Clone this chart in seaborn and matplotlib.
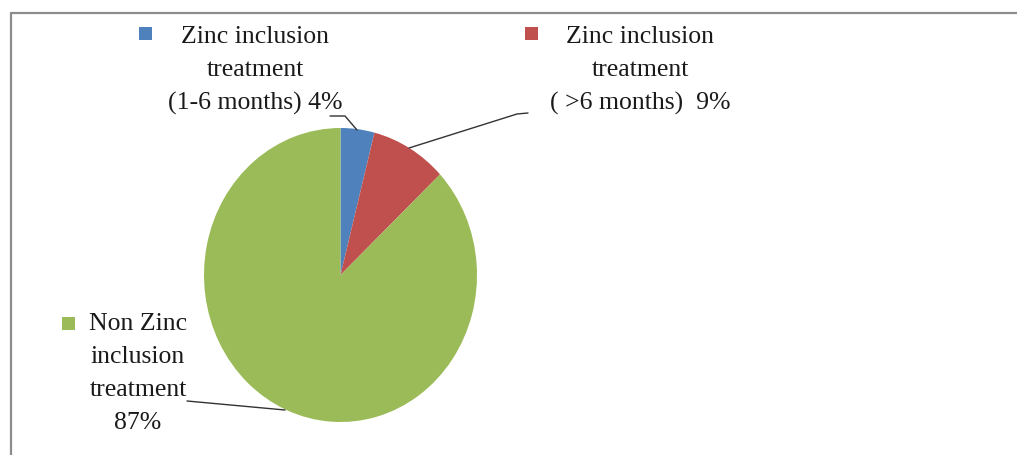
import matplotlib
matplotlib.use("Agg")
import matplotlib.pyplot as plt
import seaborn as sns
from matplotlib.lines import Line2D
from matplotlib.patches import Rectangle

# ---- data ----
categories = ["Zinc inclusion\ntreatment\n(1-6 months) 4%",
              "Zinc inclusion\ntreatment\n( >6 months)  9%",
              "Non Zinc\ninclusion\ntreatment\n87%"]
values = [4, 9, 87]
colors = ["#4F81BD", "#C0504D", "#9BBB59"]

sns.set_theme(style="white")
plt.rcParams["font.family"] = ["Liberation Serif", "DejaVu Serif"]

W, H = 1017, 455
fig = plt.figure(figsize=(W / 100, H / 100), dpi=100)
fig.patch.set_facecolor("white")

def fx(x):
    return x / W

def fy(y):
    return 1 - y / H

# pie axes (slightly taller than wide, like the reference)
left, right, top, bottom = 204, 477, 128, 422
ax = fig.add_axes([fx(left), fy(bottom), (right - left) / W, (bottom - top) / H])
ax.pie(values, colors=sns.color_palette(colors), startangle=90,
       counterclock=False, radius=1,
       wedgeprops=dict(linewidth=0))
ax.set_aspect("auto")
ax.set_xlim(-1, 1)
ax.set_ylim(-1, 1)
ax.axis("off")

# frame (only top & left visible in the crop)
fig.add_artist(Line2D([fx(11), fx(W)], [fy(13), fy(13)], color="#8c8c8c", lw=1.6))
fig.add_artist(Line2D([fx(11), fx(11)], [fy(13), fy(H)], color="#8c8c8c", lw=1.6))

# labels
label_centers = [(255, 37), (640, 37), (138, 324)]
markers = [(139, 27), (525, 27), (62, 317)]
line_step = 33
fs = 18.5
for cat, col, (cx, cy), (mx, my) in zip(categories, colors, label_centers, markers):
    for i, line in enumerate(cat.split("\n")):
        fig.text(fx(cx), fy(cy + i * line_step), line, ha="center", va="center",
                 fontsize=fs, color="#1a1a1a")
    fig.add_artist(Rectangle((fx(mx), fy(my + 13)), 13 / W, 13 / H,
                             transform=fig.transFigure, facecolor=col,
                             edgecolor="none"))

# leader lines
leaders = [
    [(330, 116), (345, 116), (357, 130)],
    [(528, 113), (517, 114), (409, 148)],
    [(187, 401), (285, 410)],
]
for pts in leaders:
    xs = [fx(p[0]) for p in pts]
    ys = [fy(p[1]) for p in pts]
    fig.add_artist(Line2D(xs, ys, color="#333333", lw=1.0))

fig.savefig("out.png", dpi=100, facecolor="white")
